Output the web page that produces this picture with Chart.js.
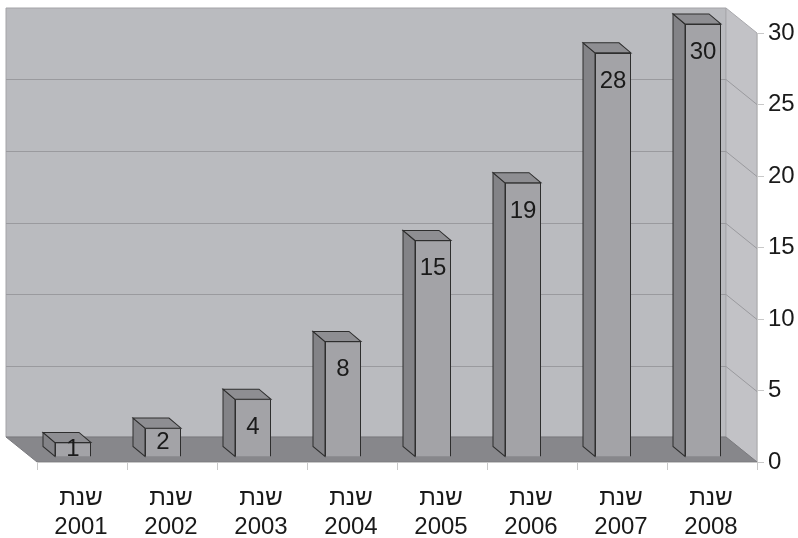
<!DOCTYPE html>
<html>
<head>
<meta charset="utf-8">
<script src="https://cdn.jsdelivr.net/npm/chart.js@4.4.0/dist/chart.umd.min.js"></script>
<style>
  html, body { margin: 0; padding: 0; background: #fff; }
  #wrap { width: 798px; height: 538px; position: relative; }
</style>
</head>
<body>
<div id="wrap"><canvas id="chart"></canvas></div>
<script>
const years = ["2001", "2002", "2003", "2004", "2005", "2006", "2007", "2008"];
const yearWord = "שנת";
const counts = [1, 2, 4, 8, 15, 19, 28, 30];
const yTicks = [0, 5, 10, 15, 20, 25, 30];

const FONT = "'Liberation Sans', Arial, sans-serif";
const WALL_DX = -31, WALL_DY = -25;   // depth of the box
const BAR_DX = -9, BAR_DY = -9.3, BAR_SY = 1.0093; // bars sit halfway back (slightly larger)
const SIDE_DX = -12, SIDE_DY = -10;  // bar depth

function poly(ctx, pts, fill, stroke) {
    ctx.beginPath();
    ctx.moveTo(pts[0][0], pts[0][1]);
    for (let i = 1; i < pts.length; i++) ctx.lineTo(pts[i][0], pts[i][1]);
    ctx.closePath();
    if (fill) { ctx.fillStyle = fill; ctx.fill(); }
    if (stroke) { ctx.strokeStyle = stroke; ctx.lineWidth = 1; ctx.stroke(); }
}

const box3d = {
    id: "box3d",
    beforeDraw(chart) {
        const ctx = chart.ctx, a = chart.chartArea, ys = chart.scales.y;
        const L = a.left, R = a.right, T = a.top, B = a.bottom;
        ctx.save();
        // back wall
        poly(ctx, [[L + WALL_DX, T + WALL_DY], [R + WALL_DX, T + WALL_DY], [R + WALL_DX, B + WALL_DY], [L + WALL_DX, B + WALL_DY]], "#babbbf", "#a4a4a8");
        // right side wall
        poly(ctx, [[R + WALL_DX, T + WALL_DY], [R, T], [R, B], [R + WALL_DX, B + WALL_DY]], "#c2c2c6", "#a8a8ac");
        // grid lines
        ctx.strokeStyle = "#9a9a9e";
        ctx.lineWidth = 1;
        yTicks.forEach(v => {
            if (v === 0 || v === 30) return;
            const y = Math.round(ys.getPixelForValue(v)) + 0.5;
            ctx.beginPath();
            ctx.moveTo(L + WALL_DX, y + WALL_DY);
            ctx.lineTo(R + WALL_DX, y + WALL_DY);
            ctx.lineTo(R, y);
            ctx.stroke();
        });
        // floor
        poly(ctx, [[L + WALL_DX, B + WALL_DY], [R + WALL_DX, B + WALL_DY], [R, B], [L, B]], "#87878b", "#7a7a7e");
        ctx.restore();
    },
    beforeDatasetsDraw(chart) {
        chart.ctx.save();
        chart.ctx.transform(1, 0, 0, BAR_SY, BAR_DX, BAR_DY);
    },
    afterDatasetsDraw(chart) {
        const ctx = chart.ctx;
        const meta = chart.getDatasetMeta(0);
        meta.data.forEach((bar, i) => {
            const x0 = bar.x - bar.width / 2, x1 = bar.x + bar.width / 2;
            const top = bar.y, base = bar.base;
            // side face (left)
            poly(ctx, [[x0, top], [x0 + SIDE_DX, top + SIDE_DY], [x0 + SIDE_DX, base + SIDE_DY], [x0, base]], "#838387", "#2e2e2e");
            // top face
            poly(ctx, [[x0, top], [x0 + SIDE_DX, top + SIDE_DY], [x1 + SIDE_DX, top + SIDE_DY], [x1, top]], "#8e8e92", "#2e2e2e");
            // value label
            const ly = Math.min(top + 28, (top + base) / 2);
            ctx.fillStyle = "#1a1a1a";
            ctx.font = "24px " + FONT;
            ctx.textAlign = "center";
            ctx.textBaseline = "middle";
            ctx.fillText(String(counts[i]), bar.x, ly);
        });
        ctx.restore();
    }
};

new Chart(document.getElementById("chart"), {
    type: "bar",
    data: {
        labels: years.map(y => [yearWord, y]),
        datasets: [{
            data: counts,
            backgroundColor: "#a3a3a7",
            borderColor: "#2e2e2e",
            borderWidth: 1,
            barPercentage: 0.8,
            categoryPercentage: 0.5
        }]
    },
    options: {
        responsive: true, maintainAspectRatio: false, animation: false,
        layout: { padding: { left: 37, top: 33, right: 0, bottom: 0 } },
        plugins: { legend: { display: false }, tooltip: { enabled: false } },
        scales: {
            x: {
                grid: { display: true, drawOnChartArea: false, tickLength: 8, color: "#c8c8c8", offset: true },
                border: { display: true, color: "#c8c8c8" },
                ticks: { color: "#1a1a1a", font: { family: FONT, size: 24, lineHeight: 1.2 }, padding: 14, labelOffset: -1, maxRotation: 0, autoSkip: false },
                afterFit(s) { s.height = 76; }
            },
            y: {
                position: "right",
                min: 0, max: 30,
                afterBuildTicks(s) { s.ticks = yTicks.map(v => ({ value: v })); },
                grid: { display: true, drawOnChartArea: false, tickLength: 7, color: "#c8c8c8" },
                border: { display: true, color: "#c8c8c8" },
                ticks: { color: "#1a1a1a", font: { family: FONT, size: 24 }, padding: 4, crossAlign: "near" },
                afterFit(s) { s.width = 41; }
            }
        }
    },
    plugins: [box3d]
});
</script>
</body>
</html>
